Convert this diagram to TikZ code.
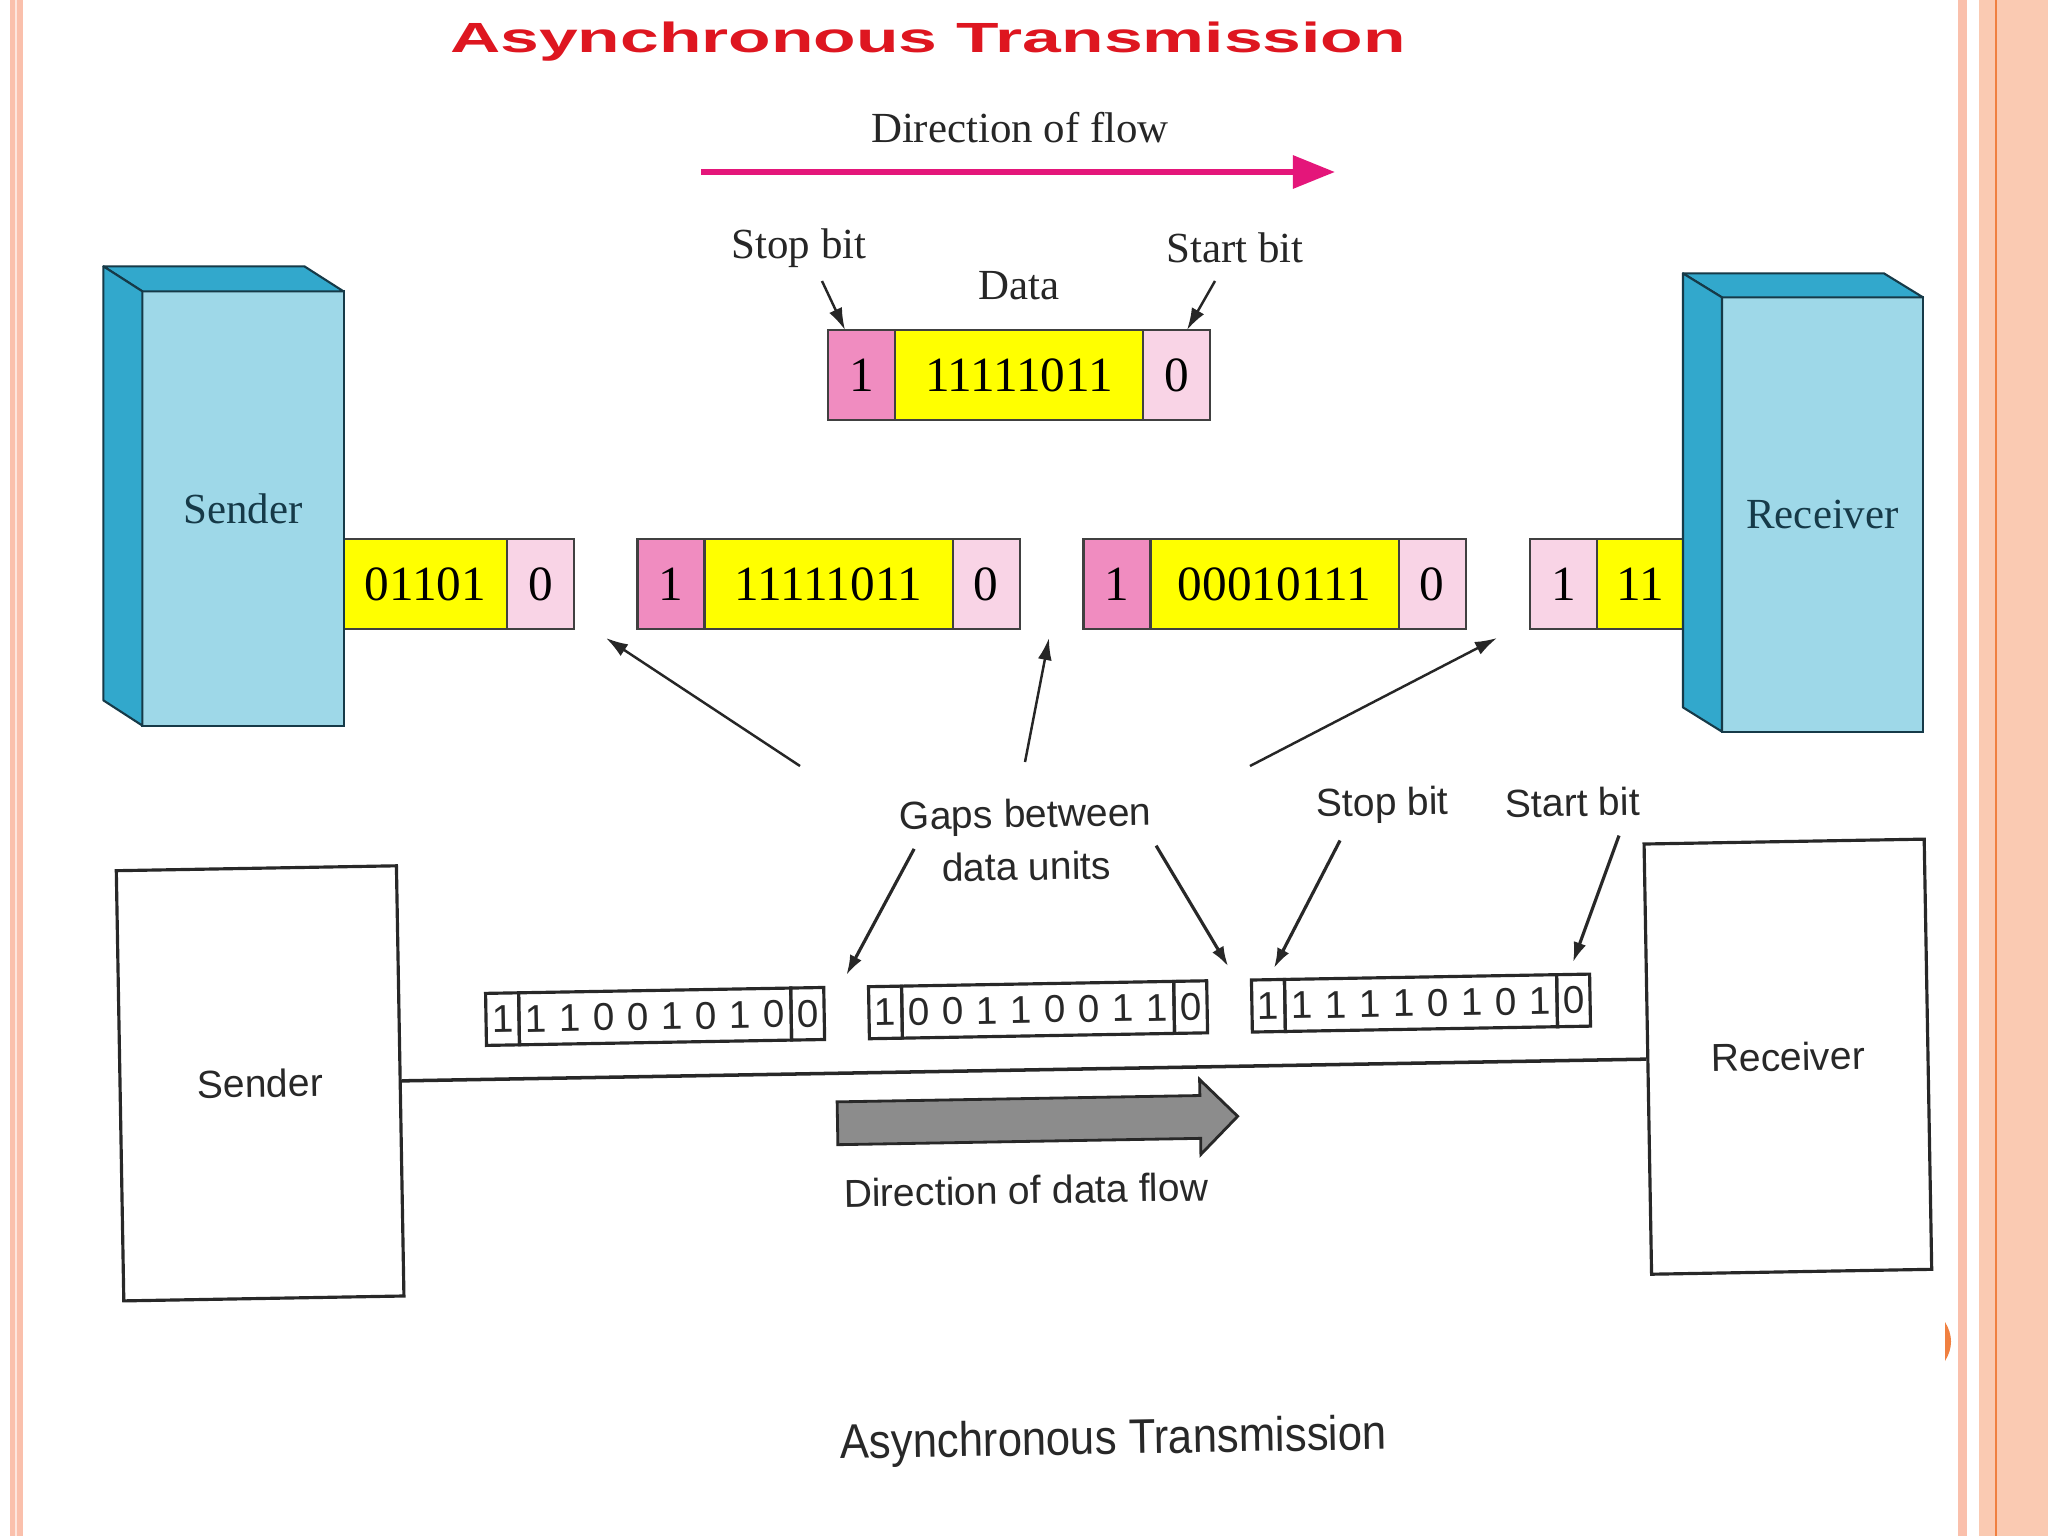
\documentclass[tikz,border=0pt]{standalone}
\usepackage{fontspec}
\setmainfont{Liberation Serif}
\setsansfont{Liberation Sans}
\usetikzlibrary{positioning,arrows.meta,shapes.arrows}
\definecolor{titlered}{RGB}{222,22,32}
\definecolor{flowpink}{RGB}{228,22,122}
\definecolor{frontblue}{RGB}{158,216,232}
\definecolor{sideblue}{RGB}{50,168,204}
\definecolor{edgeteal}{RGB}{22,58,72}
\definecolor{stoppink}{RGB}{240,140,192}
\definecolor{startpink}{RGB}{249,212,230}
\definecolor{datayellow}{RGB}{255,255,0}
\definecolor{stripepeach}{RGB}{250,192,172}
\definecolor{sidepeach}{RGB}{250,202,178}
\definecolor{rimorange}{RGB}{240,128,64}
\definecolor{scangray}{RGB}{40,40,40}
\begin{document}
\begin{tikzpicture}[x=0.01cm,y=-0.01cm,
  lbl/.style={font=\fontsize{12.2}{14}\selectfont, text=black!85},
  box3d/.style={draw=edgeteal, line width=0.6pt, fill=frontblue, outer sep=0pt,
    minimum width=20.1mm, minimum height=43.4mm,
    font=\fontsize{12.2}{14}\selectfont, text=edgeteal},
  side3d/.style={draw=edgeteal, line width=0.6pt, fill=sideblue, line join=round},
  cell/.style={draw=black!75, line width=0.6pt, outer sep=0pt, inner sep=0pt,
    minimum height=9mm, font=\fontsize{14}{16}\selectfont},
  stopc/.style={cell, fill=stoppink, minimum width=6.7mm},
  startc/.style={cell, fill=startpink, minimum width=6.7mm},
  datac/.style={cell, fill=datayellow, minimum width=24.8mm},
  ptr/.style={-{Latex[length=2.2mm,width=1.4mm]}, line width=0.7pt, black!85},
  flowarr/.style={-{Triangle[length=4.2mm,width=3.2mm]}, line width=1.7pt, flowpink},
  scan/.style={font=\sffamily\fontsize{11.1}{15}\selectfont, text=scangray, align=center},
  plainbox/.style={scan, draw=scangray, line width=0.9pt, minimum width=28mm, minimum height=43mm},
  bcell/.style={draw=scangray, line width=0.9pt, outer sep=0pt, minimum height=5.2mm, inner sep=0pt},
  bdigit/.style={font=\sffamily\fontsize{11}{12}\selectfont, text=scangray, inner sep=0pt},
  bptr/.style={-{Latex[length=2mm,width=1.3mm]}, line width=0.9pt, scangray}]
  \useasboundingbox (0,0) rectangle (2048,1536);
  \fill[white] (0,0) rectangle (2048,1536);
  % slide edges
  \fill[stripepeach] (10,0) rectangle (23,1536);
  \draw[white!60!stripepeach, line width=0.4pt] (16,0) -- (16,1536);
  \fill[stripepeach] (1958,0) rectangle (1967,1536);
  \fill[sidepeach] (1979,0) rectangle (2048,1536);
  \draw[rimorange, line width=0.5pt] (1996,0) -- (1996,1536);
  \fill[rimorange] (1945,1322) .. controls (1953,1335) and (1953,1348) .. (1945,1361) -- cycle;

  % title
  \node[font=\sffamily\bfseries\fontsize{12}{14}\selectfont, text=titlered, anchor=base] (title)
    at (928,52) {\scalebox{1.65}[1]{Asynchronous Transmission}};

  % direction of flow (pink arrow)
  \node[lbl] (flowlbl) at (1020,128) {Direction of flow};
  \coordinate (flowL) at (701,172);
  \coordinate (flowR) at (1335,172);
  \draw[flowarr] (flowL) -- (flowR);

  % one character: stop bit, data, start bit
  \node[datac] (t2) at (1019,375) {11111011};
  \node[stopc, left=0pt of t2] (t1) {1};
  \node[startc, right=0pt of t2] (t3) {0};
  \node[lbl] (stoplbl) at (799,248) {Stop bit};
  \node[lbl] (startlbl) at (1235,248) {Start bit};
  \node[lbl] (datalbl) at (1019,286) {Data};
  \coordinate (stoptail) at (822,281);
  \coordinate (starttail) at (1215,281);
  \draw[ptr] (stoptail) -- (t1.110);
  \draw[ptr] (starttail) -- (t3.77);

  % characters on the line
  \node[datac, minimum width=16.3mm] (a2) at (425.5,584) {01101};
  \node[startc, right=0pt of a2] (a3) {0};
  \node[stopc] (b1) at (671,584) {1};
  \node[datac, right=0pt of b1] (b2) {11111011};
  \node[startc, right=0pt of b2] (b3) {0};
  \node[stopc] (c1) at (1117,584) {1};
  \node[datac, right=0pt of c1] (c2) {00010111};
  \node[startc, right=0pt of c2] (c3) {0};
  \node[startc] (d1) at (1563.5,584) {1};
  \node[datac, minimum width=8.6mm, right=0pt of d1] (d2) {11};

  % arrows to the gaps
  \coordinate (gap1) at (606,638);
  \coordinate (gap2) at (1049,638);
  \coordinate (gap3) at (1497,638);
  \coordinate (tail1) at (800,766);
  \coordinate (tail2) at (1025,762);
  \coordinate (tail3) at (1250,766);
  \draw[ptr] (tail1) -- (gap1);
  \draw[ptr] (tail2) -- (gap2);
  \draw[ptr] (tail3) -- (gap3);

  % sender box
  \node[box3d] (sender) at (243,508.5) {Sender};
  \draw[side3d] (sender.north west) -- ++(-39,-25) -- ++(201,0) -- (sender.north east) -- cycle;
  \draw[side3d] (sender.north west) -- ++(-39,-25) -- ++(0,434) -- (sender.south west) -- cycle;

  % receiver box
  \node[box3d] (receiver) at (1822.5,514.5) {Receiver};
  \draw[side3d] (receiver.north west) -- ++(-39,-24) -- ++(201,0) -- (receiver.north east) -- cycle;
  \draw[side3d] (receiver.north west) -- ++(-39,-24) -- ++(0,434) -- (receiver.south west) -- cycle;

  % lower picture, tilted a little
  \begin{scope}[rotate around={1:(1024,1070)}, transform shape]
    \node[plainbox] (bsender) at (260,1070) {Sender};
    \node[plainbox] (breceiver) at (1788,1070) {Receiver};
    \draw[line width=1pt, scangray] (bsender) -- (breceiver);

    % three characters
    \foreach \fx/\bits/\fr in {487/{1,1,0,0,1,0,1,0}/fa, 870/{0,0,1,1,0,0,1,1}/fb, 1253/{1,1,1,1,0,1,0,1}/fc}{
      \node[bcell, minimum width=3.3mm] (\fr1) at ({\fx+16.5},1010) {};
      \node[bcell, minimum width=27.2mm, right=0pt of \fr1] (\fr2) {};
      \node[bcell, minimum width=3.3mm, right=0pt of \fr2] (\fr3) {};
      \node[bdigit] (\fr-s) at (\fr1) {1};
      \node[bdigit] (\fr-e) at (\fr3) {0};
      \foreach \d [count=\i] in \bits
        \node[bdigit] (\fr-\i) at ({\fx+16+34*\i},1010) {\d};
    }

    % labels and pointers
    \node[scan] (gapslbl) at (1030,840) {Gaps between\\data units};
    \node[scan] (bstoplbl) at (1387,812) {Stop bit};
    \node[scan] (bstartlbl) at (1577,812) {Start bit};
    \coordinate (gt1) at (918,847);
    \coordinate (gt2) at (1160,848);
    \coordinate (st1) at (1344,846);
    \coordinate (st2) at (1623,846);
    \coordinate (bgap1) at (848,972);
    \coordinate (bgap2) at (1230,970);
    \draw[bptr] (gt1) -- (bgap1);
    \draw[bptr] (gt2) -- (bgap2);
    \draw[bptr, shorten >=1.3mm] (st1) -- (fc1.north);
    \draw[bptr, shorten >=1.3mm] (st2) -- (fc3.100);

    % direction of data flow
    \node[single arrow, draw=scangray, fill=black!45, line width=0.8pt, inner xsep=0pt, inner ysep=2mm,
      minimum height=40mm, single arrow head extend=1.6mm] (flowarrow) at (1026,1120) {};
    \node[scan] (flowtxt) at (1024,1190) {Direction of data flow};

    % caption
    \node[scan, font=\sffamily\fontsize{13.8}{16}\selectfont] (caption) at (1107,1443)
      {\scalebox{0.9}[1]{Asynchronous Transmission}};
  \end{scope}
\end{tikzpicture}
\end{document}
